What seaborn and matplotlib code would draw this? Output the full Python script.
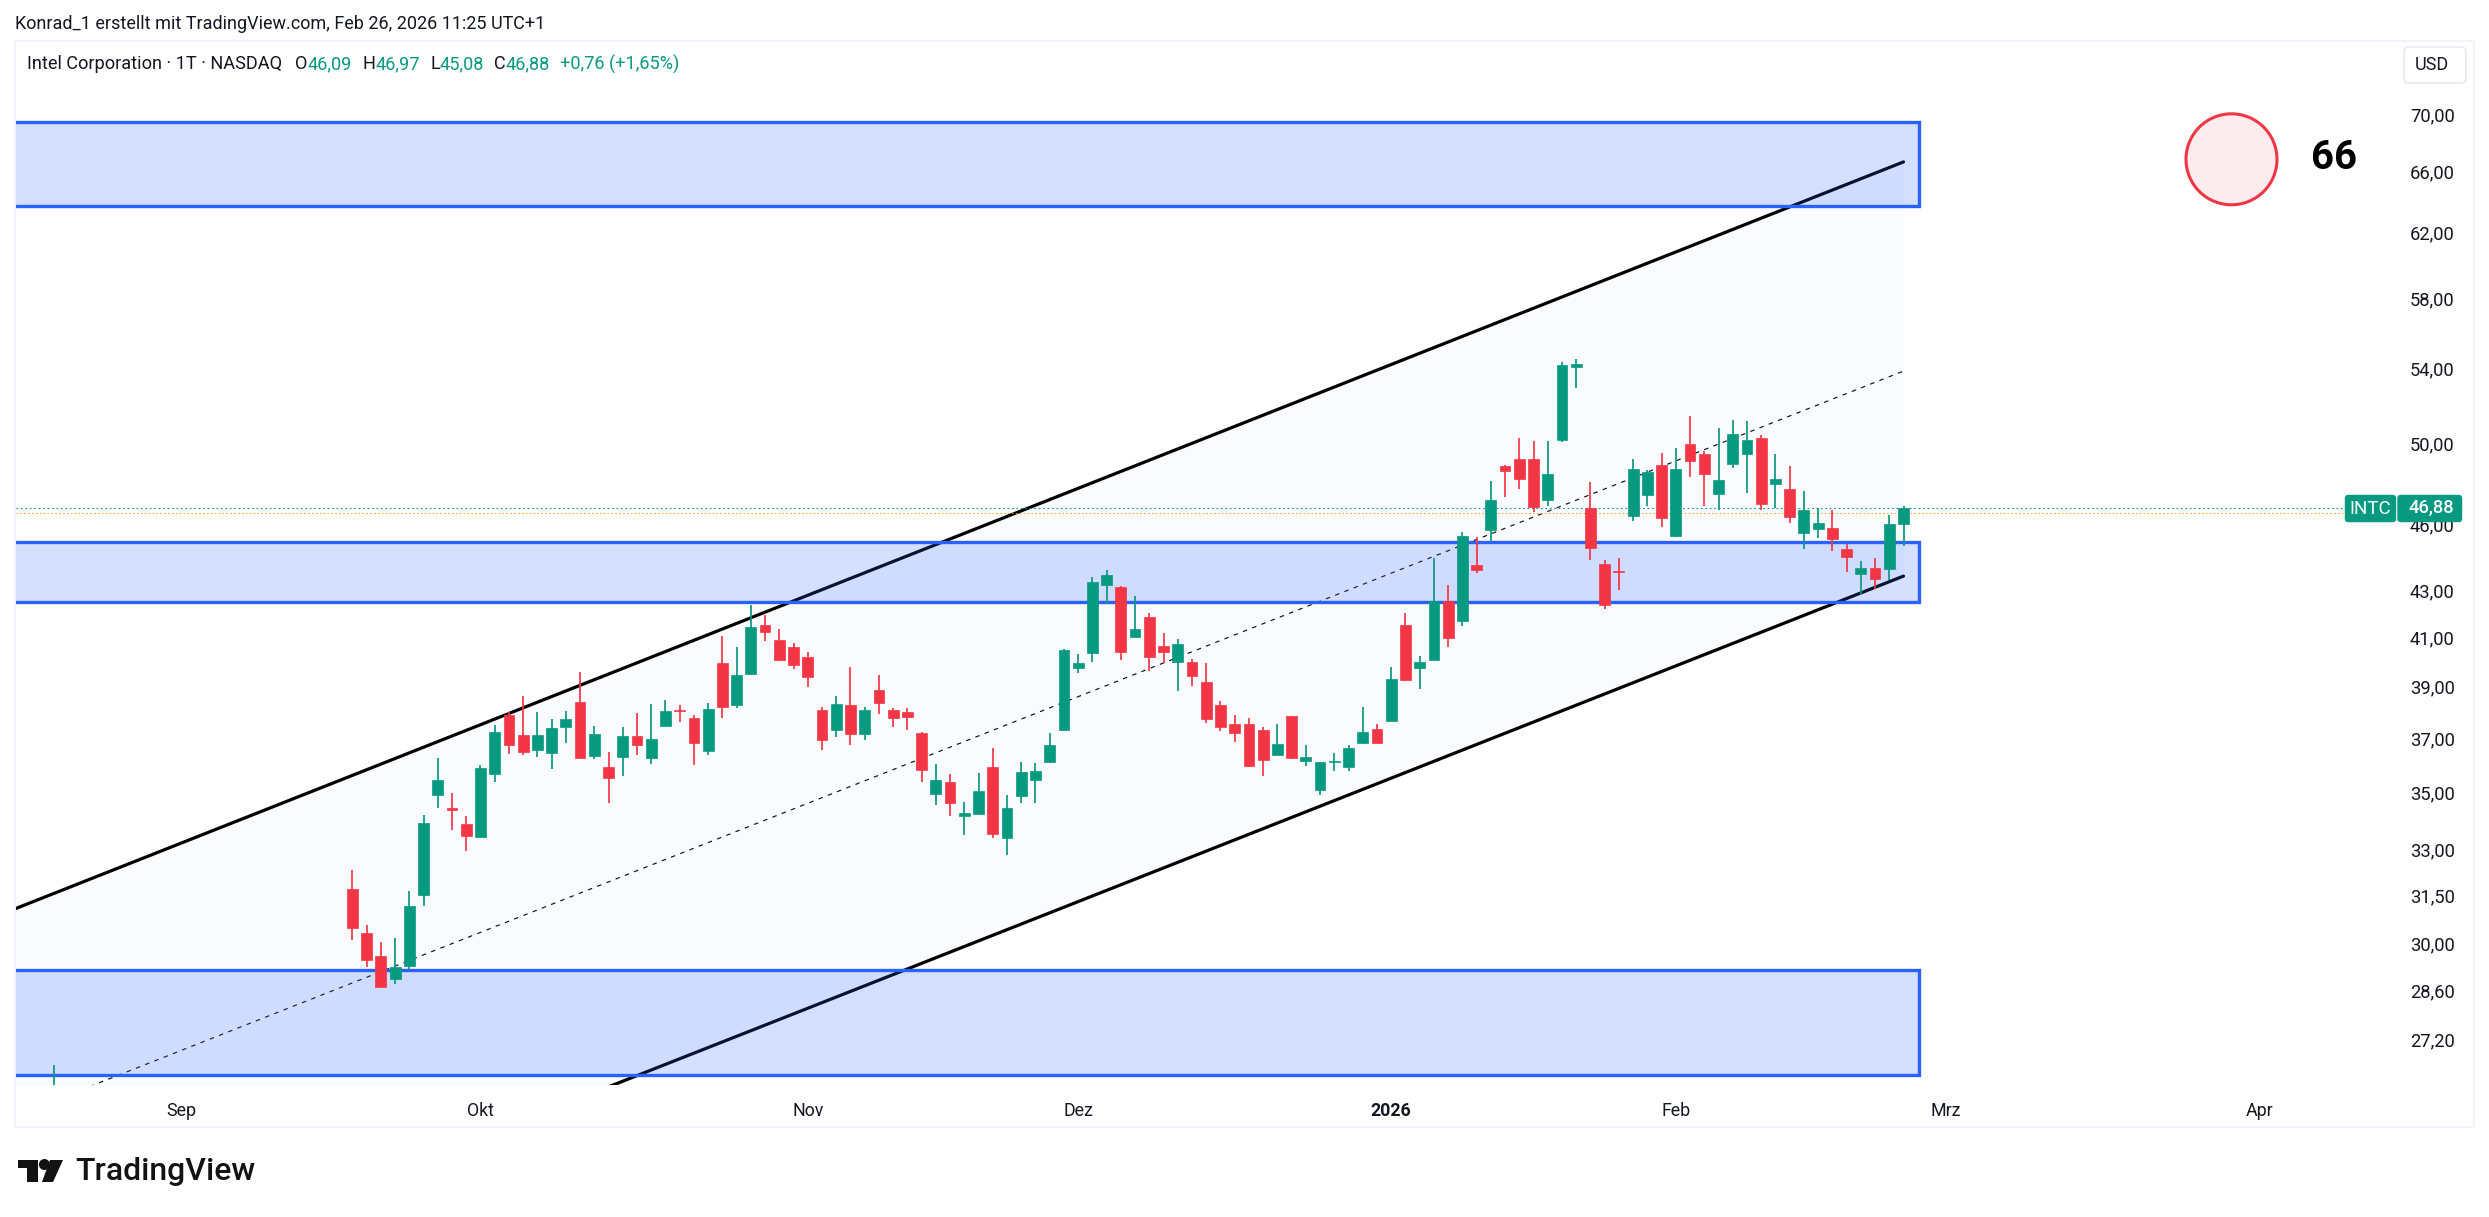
import matplotlib
matplotlib.use("Agg")
import matplotlib.pyplot as plt
from matplotlib.patches import Rectangle, Ellipse, FancyBboxPatch, Polygon
from matplotlib.transforms import ScaledTranslation
import seaborn as sns

# ---------- data ----------
open_ = [31.75,30.36,29.65,28.96,29.35,31.56,34.95,34.50,33.93,33.49,35.72,37.93,37.16,36.60,36.49,37.47,38.44,36.37,35.96,36.34,
         37.12,36.30,37.50,38.12,37.82,36.56,40.00,38.32,39.55,41.58,40.95,40.66,40.25,38.12,37.35,38.32,37.20,38.91,38.12,38.05,
         37.23,34.99,35.43,34.21,34.28,35.96,33.45,34.92,35.49,36.15,37.35,39.80,40.41,43.32,43.23,41.08,41.93,40.70,40.04,40.04,
         39.23,38.32,37.58,37.58,37.35,36.41,37.89,36.19,35.13,36.15,35.96,36.86,37.39,37.70,41.58,39.80,40.12,42.62,41.75,44.21,
         45.83,48.92,49.29,49.26,47.25,50.23,54.13,46.87,44.26,43.94,46.50,47.49,48.97,45.54,50.03,49.54,47.54,49.02,49.54,50.37,
         48.03,47.77,45.69,45.87,45.91,44.94,43.82,44.08,44.03,46.09]
high = [32.38,30.60,30.07,30.20,31.69,34.25,36.30,35.02,34.21,36.04,37.54,38.05,38.67,38.05,37.78,38.09,39.64,37.50,36.52,37.47,
        38.01,38.36,38.52,38.32,37.93,38.40,41.11,40.66,42.44,42.00,41.42,40.83,40.45,38.24,38.67,39.84,38.24,39.51,38.20,38.20,
        37.27,36.07,35.72,34.72,35.75,36.67,34.95,36.15,36.11,37.23,40.58,40.37,43.68,43.99,43.27,42.83,42.10,41.24,40.99,40.16,
        40.00,38.48,37.93,37.82,37.47,37.58,37.89,36.79,36.15,36.49,36.79,38.24,37.58,39.84,42.10,40.29,44.53,43.32,45.73,45.50,
        48.20,48.97,50.37,50.18,50.18,54.41,54.57,48.13,44.44,44.53,49.26,48.73,49.59,49.84,51.48,49.69,50.87,51.26,51.21,50.50,
        49.54,48.92,47.68,46.87,46.77,45.17,44.40,44.53,46.56,46.97]
low = [30.14,29.32,28.73,28.81,29.26,31.20,34.50,33.73,33.00,33.49,35.43,36.46,36.41,36.34,35.89,36.86,36.30,36.26,34.67,35.64,
       36.41,36.07,37.50,37.66,36.04,36.41,37.82,38.20,39.51,40.91,40.08,39.76,39.03,36.60,37.09,36.79,36.97,37.97,37.47,37.35,
       35.43,34.60,34.21,33.55,34.25,33.45,32.88,34.67,34.67,36.11,37.31,39.59,40.04,42.49,40.12,41.08,39.67,40.00,38.87,39.07,
       37.62,37.31,36.90,35.96,35.64,36.41,36.26,36.00,34.95,35.82,35.82,36.82,36.86,37.70,39.27,38.95,40.12,40.66,41.54,43.87,
       45.26,47.39,47.77,46.70,46.96,50.13,53.00,44.44,42.27,43.10,46.27,46.96,45.96,45.50,48.40,46.96,46.77,48.82,47.59,46.77,
       46.87,46.14,44.94,45.45,44.85,43.90,42.88,43.14,43.54,45.08]
close = [30.51,29.53,28.73,29.32,31.20,33.97,35.49,34.43,33.52,35.93,37.27,36.79,36.52,37.16,37.43,37.78,36.30,37.20,35.57,37.12,
         36.79,37.01,38.09,38.09,36.86,38.16,38.24,39.51,41.50,41.29,40.12,39.92,39.43,36.97,38.36,37.20,38.12,38.40,37.82,37.86,
         35.86,35.49,34.67,34.32,35.09,33.59,34.50,35.79,35.82,36.79,40.54,40.00,43.45,43.77,40.45,41.42,40.25,40.45,40.79,39.47,
         37.78,37.47,37.23,36.00,36.22,36.82,36.30,36.34,36.15,36.19,36.67,37.27,36.86,39.35,39.31,40.04,42.62,41.03,45.54,43.99,
         47.25,48.69,48.26,46.92,48.55,54.24,54.30,44.98,42.44,43.90,48.77,48.64,46.38,48.77,49.17,48.55,48.23,50.55,50.23,47.05,
         48.26,46.42,46.77,46.14,45.41,44.58,44.08,43.58,46.10,46.88]
bars = list(range(len(close)))

early_bar = [-21]
early_open = [25.60]
early_high = [26.52]
early_low = [25.40]
early_close = [25.80]

channel_bars = [-23.64, 109]
channel_upper = [31.13, 66.76]
channel_mid = [25.19, 53.91]
channel_lower = [20.43, 43.72]

zone_top = [69.55, 45.29, 29.23]
zone_bottom = [63.80, 42.57, 26.26]
zone_bar_left = -26
zone_bar_right = 110.06

last_price = 46.88
extended_price = 46.61

price_ticks = [70, 66, 62, 58, 54, 50, 46, 43, 41, 39, 37, 35, 33, 31.5, 30, 28.6, 27.2]
price_labels = ["70,00","66,00","62,00","58,00","54,00","50,00","46,00","43,00","41,00","39,00","37,00","35,00","33,00","31,50","30,00","28,60","27,20"]
time_ticks = [-12, 9, 32, 51, 73, 93, 112, 134]
time_labels = ["Sep", "Okt", "Nov", "Dez", "2026", "Feb", "Mrz", "Apr"]

# ---------- style ----------
GREEN = "#089981"
RED = "#f23645"
BLUE = "#2962ff"
FONT = "Roboto"
TXT = "#131722"
W, H = 2489, 1217

sns.set_theme(style="white")
plt.rcParams["font.family"] = [FONT, "DejaVu Sans"]

def fx(px):
    return px / W

def fy(py):
    return 1 - py / H

fig = plt.figure(figsize=(W / 100, H / 100), dpi=100, facecolor="white")
ax = fig.add_axes([fx(16), fy(1085), (2402 - 16) / W, (1085 - 41) / H])
ax.set_facecolor("white")
ax.set_yscale("log")
ax.set_xlim(-23.64, 144.03)
ax.set_ylim(25.99, 75.54)

# ---------- channel ----------
ax.fill_between(channel_bars, channel_lower, channel_upper, color="#f9fbff", lw=0, zorder=1)
for series in (channel_upper, channel_lower):
    sns.lineplot(x=channel_bars, y=series, ax=ax, color="black", linewidth=2.3,
                 estimator=None, sort=False, legend=False, zorder=2, solid_capstyle="round")
sns.lineplot(x=channel_bars, y=channel_mid, ax=ax, color="#111111", linewidth=0.85,
             estimator=None, sort=False, legend=False, zorder=2,
             linestyle=(0, (3.8, 4.6)))

# ---------- zones ----------
for top, bottom in zip(zone_top, zone_bottom):
    ax.add_patch(Rectangle((zone_bar_left, bottom), zone_bar_right - zone_bar_left, top - bottom,
                           facecolor=(0x29 / 255, 0x62 / 255, 1, 0.2), edgecolor=BLUE, linewidth=2.4, zorder=3))

# ---------- price lines ----------
ax.hlines(extended_price, -23.64, 140.03, color="#ff9800", linewidth=0.7, linestyles=(0, (1.5, 2.5)), zorder=3.5)
ax.hlines(last_price, -23.64, 140.03, color=GREEN, linewidth=0.8, linestyles=(0, (1.5, 2.5)), zorder=3.5)

# ---------- candles ----------
def draw_candles(xs, o, h, l, c):
    colors = [GREEN if cv >= ov else RED for ov, cv in zip(o, c)]
    ax.vlines(xs, l, h, colors=colors, linewidth=1.25, zorder=4)
    ax.bar(xs, [abs(cv - ov) for ov, cv in zip(o, c)], bottom=[min(ov, cv) for ov, cv in zip(o, c)],
           width=0.76, color=colors, edgecolor=colors, linewidth=0.5, zorder=5)

draw_candles(early_bar, early_open, early_high, early_low, early_close)
draw_candles(bars, open_, high, low, close)

# ---------- axes ----------
for s in ax.spines.values():
    s.set_visible(False)
ax.yaxis.tick_right()
ax.minorticks_off()
ax.set_yticks(price_ticks)
ax.set_yticklabels(price_labels, fontsize=13.2, color=TXT, family=[FONT, "DejaVu Sans"])
ax.minorticks_off()
ax.set_xticks(time_ticks)
ax.set_xticklabels(time_labels, fontsize=12.8, color=TXT, family=[FONT, "DejaVu Sans"])
ax.get_xticklabels()[4].set_fontweight("bold")
ax.tick_params(axis="y", length=0, pad=5.8)
ax.tick_params(axis="x", length=0, pad=12.5)
ax.grid(False)
shift_up = ScaledTranslation(0, 1.5 / 100, fig.dpi_scale_trans)
for tick_label in ax.get_yticklabels():
    tick_label.set_transform(tick_label.get_transform() + shift_up)

# ---------- frame ----------
fig.add_artist(Rectangle((fx(15), fy(1127)), (2473.5 - 15) / W, (1127 - 41) / H, transform=fig.transFigure,
                         fill=False, edgecolor="#f0f3fa", linewidth=1.5, zorder=1))

# ---------- header texts ----------
def label(px, py, s, color=TXT, size=13.1, weight="normal", ha="left", va="center"):
    fig.text(fx(px), fy(py), s, color=color, fontsize=size, fontweight=weight, ha=ha, va=va, zorder=6)

label(15, 24, "Konrad_1 erstellt mit TradingView.com, Feb 26, 2026 11:25 UTC+1", size=13.0)
label(27, 64, "Intel Corporation · 1T · NASDAQ")
label(295, 64, "O")
label(308, 64, "46,09", GREEN)
label(362, 64, "H")
label(375, 64, "46,97", GREEN)
label(430, 64, "L")
label(439, 64, "45,08", GREEN)
label(494, 64, "C")
label(506, 64, "46,88", GREEN)
label(560, 64, "+0,76 (+1,65%)", GREEN)

# ---------- currency box ----------
fig.add_artist(FancyBboxPatch((fx(2404), fy(83)), 62 / W, 36 / H, transform=fig.transFigure,
                              boxstyle="round,pad=0,rounding_size=0.002", mutation_aspect=2.04,
                              facecolor="white", edgecolor="#e6e9f0", linewidth=1.2, zorder=2))
label(2432, 65.5, "USD", ha="center", size=13)

# ---------- circle marker ----------
fig.add_artist(Ellipse((fx(2231.5), fy(159.3)), 91 / W, 91 / H, transform=fig.transFigure,
                       facecolor="#fdecee", edgecolor=RED, linewidth=2.2, zorder=2))
label(2334, 158, "66", color="black", size=29, weight="bold", ha="center")

# ---------- price tag ----------
for x0, x1 in ((2345, 2396), (2397.5, 2462)):
    fig.add_artist(FancyBboxPatch((fx(x0), fy(522)), (x1 - x0) / W, 27 / H, transform=fig.transFigure,
                                  boxstyle="round,pad=0,rounding_size=0.0012", mutation_aspect=2.04,
                                  facecolor=GREEN, edgecolor=GREEN, linewidth=0.3, zorder=4))
label(2370, 509, "INTC", color="white", ha="center", size=13.5)
label(2431.5, 508, "46,88", color="white", ha="center", size=13.2, weight="medium")

# ---------- logo ----------
LOGO = "#131313"
def poly(points):
    fig.add_artist(Polygon([(fx(a), fy(b)) for a, b in points], closed=True, transform=fig.transFigure,
                           facecolor=LOGO, edgecolor="none", zorder=3))
poly([(18, 1160), (38, 1160), (38, 1182), (26.5, 1182), (26.5, 1168), (18, 1168)])
poly([(50, 1160), (63, 1160), (53, 1182), (42, 1182)])
fig.add_artist(Ellipse((fx(44.4), fy(1164.5)), 11 / W, 11 / H, transform=fig.transFigure,
                       facecolor=LOGO, edgecolor="none", zorder=3))
label(75, 1172, "TradingView", color=LOGO, size=23, weight="medium")

fig.savefig("out.png", dpi=100, facecolor="white")
